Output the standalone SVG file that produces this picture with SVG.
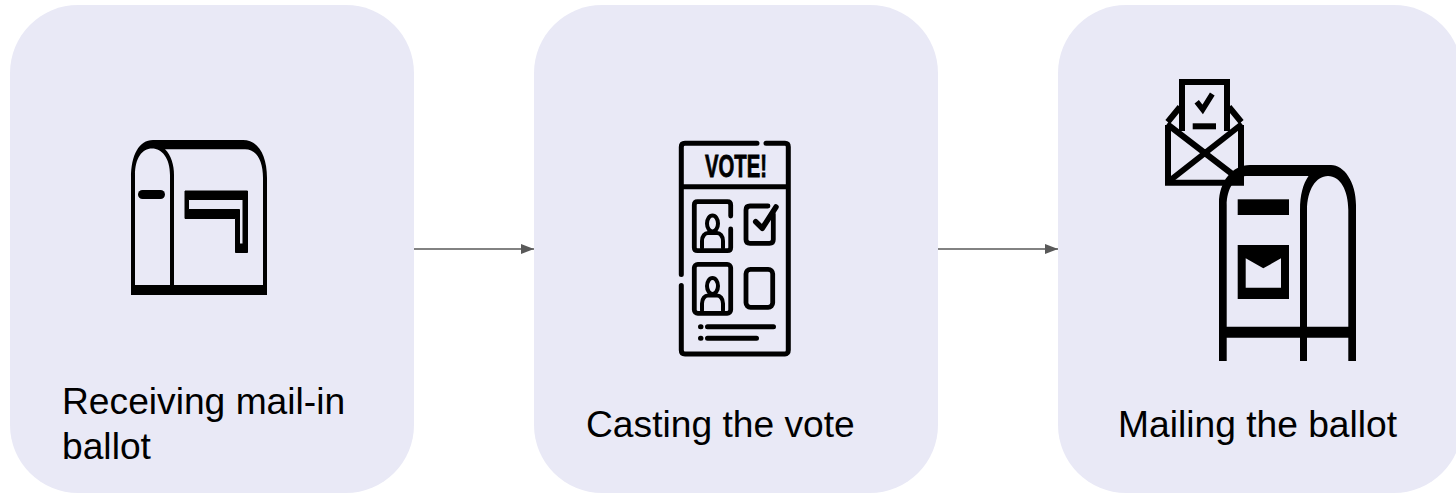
<svg xmlns="http://www.w3.org/2000/svg" width="1456" height="494" viewBox="0 0 1456 494">
<defs>
<style>
.card{fill:#e9e9f6}
.lbl{font-family:"Liberation Sans",Arial,sans-serif;font-size:37.2px;fill:#000}
.s{fill:none;stroke:#000;stroke-linejoin:round;stroke-linecap:round}
.b{fill:none;stroke:#000;stroke-linejoin:miter;stroke-linecap:butt}
.k{fill:#000}
.c{fill:none;stroke:#595959;stroke-width:1.4}
</style>
<marker id="ah" markerUnits="userSpaceOnUse" markerWidth="14" markerHeight="11" refX="13" refY="5" orient="auto">
<path d="M0 0L13 5L0 10Z" fill="#595959"/>
</marker>
<g id="person"><ellipse cx="712.5" cy="223.5" rx="5.5" ry="8" class="s" stroke-width="4"/><path d="M702 248V241C702 236 705 233 708 233H717C720 233 723 236 723 241V248" class="s" stroke-width="4"/></g>
</defs>
<rect width="1456" height="494" fill="#fff"/>
<g id="connectors">
<path class="c" d="M414 249H534" marker-end="url(#ah)"/>
<path class="c" d="M938 249H1058" marker-end="url(#ah)"/>
</g>
<g id="node-receiving">
<rect class="card" x="10" y="5" width="404" height="488" rx="68"/>
<path class="k" fill-rule="evenodd" d="M131 295V178C131 155 139 140 153 140H243C258 140 267 155 267 178V295ZM135 285H170V175C170 158 162 148.500 152 148.500C142 148.500 135 158 135 175ZM174 285H263V178C263 160 256 149.300 245 149.300H165C171 155 174 165 174 175Z"/>
<path class="s" stroke-width="9" d="M142.500 194.500H160.500"/>
<path class="k" fill-rule="evenodd" stroke="#000" stroke-width="1" stroke-linejoin="round" d="M185 191H247.500V252.500H235.500V218.500H185ZM188.500 199.500V209.500H239.500V244H243V199.500Z"/>
<text class="lbl" x="62" y="414">Receiving mail-in</text>
<text class="lbl" x="62" y="459">ballot</text>
</g>
<g id="node-casting">
<rect class="card" x="534" y="5" width="404" height="488" rx="68"/>
<path class="s" stroke-width="5" d="M681.300 274.500V147C681.300 144.500 682.500 143.300 685 143.300H757M766 143.300H785C787 143.300 788.300 144.500 788.300 147V350C788.300 352.500 787 354 785 354H685C682.500 354 681.300 352.500 681.300 350V285.500"/>
<path class="b" stroke-width="5" d="M681.300 186.700H788.300"/>
<text x="705" y="177" font-family="'Liberation Sans',Arial,sans-serif" font-weight="700" font-size="30.500" textLength="62" lengthAdjust="spacingAndGlyphs" fill="#000" stroke="#000" stroke-width="0.800">VOTE!</text>
<path class="s" stroke-width="4.800" d="M730.700 216V205C730.700 203 729.500 201.700 727.500 201.700H697.500C695.500 201.700 694.300 203 694.300 205V247.500C694.300 249.500 695.500 250.700 697.500 250.700H727.500C729.500 250.700 730.700 249.500 730.700 247.500V229"/>
<use href="#person"/>
<rect class="s" stroke-width="4.800" x="694.300" y="264.300" width="36.400" height="49" rx="3.500"/>
<use href="#person" y="62.500"/>
<path class="s" stroke-width="4.800" d="M768 206H750C747.500 206 746 207.500 746 210V239.500C746 242 747.500 243.300 750 243.300H769.500C772 243.300 773.300 242 773.300 239.500V214"/>
<path class="s" stroke-width="5.500" d="M755.700 221.700L762.300 228.300L776 207"/>
<rect class="s" stroke-width="4.800" x="746" y="269.300" width="26.700" height="38" rx="4.500"/>
<path class="s" stroke-width="5" d="M707.500 326.700H773.500M707.500 338.300H756.500M700.500 326.700H701M700.500 338.300H701"/>
<text class="lbl" x="586" y="436.500">Casting the vote</text>
</g>
<g id="node-mailing">
<rect class="card" x="1058" y="5" width="404" height="488" rx="68"/>
<path class="k" fill-rule="evenodd" d="M1219 361V203C1219 182 1232 165 1250 165H1331C1344 165 1356 182 1356 205V361ZM1226.700 326.700H1300V210C1300 195 1303 184 1308.500 176H1246C1234 176 1226.700 190 1226.700 205ZM1307 326.700H1348.300V210C1348.300 190 1340 176 1328 176C1316 176 1307 190 1307 210ZM1226.700 337.700V361H1300V337.700ZM1307 337.700V361H1348.300V337.700Z"/>
<rect class="k" x="1237.700" y="199.300" width="51.300" height="15.700"/>
<path class="k" fill-rule="evenodd" d="M1237.700 245H1289V299H1237.700ZM1245.700 258.300V287.700H1281V258.300L1263.300 268.300Z"/>
<path class="b" stroke-width="6" d="M1168 125V182.800H1241V125"/>
<path class="b" stroke-width="6" d="M1167.700 122L1180 107M1241.300 122L1229 107"/>
<path class="b" stroke-width="6" d="M1182 131V82H1227V131"/>
<path class="b" stroke-width="6" d="M1167 124L1240 180M1242 124L1168 182"/>
<path class="b" stroke-width="5.500" d="M1196.700 101.700L1202.700 109.500L1212.300 94"/>
<rect class="k" x="1192.700" y="123.300" width="23.300" height="6"/>
<text class="lbl" x="1118" y="436.500">Mailing the ballot</text>
</g>
</svg>
